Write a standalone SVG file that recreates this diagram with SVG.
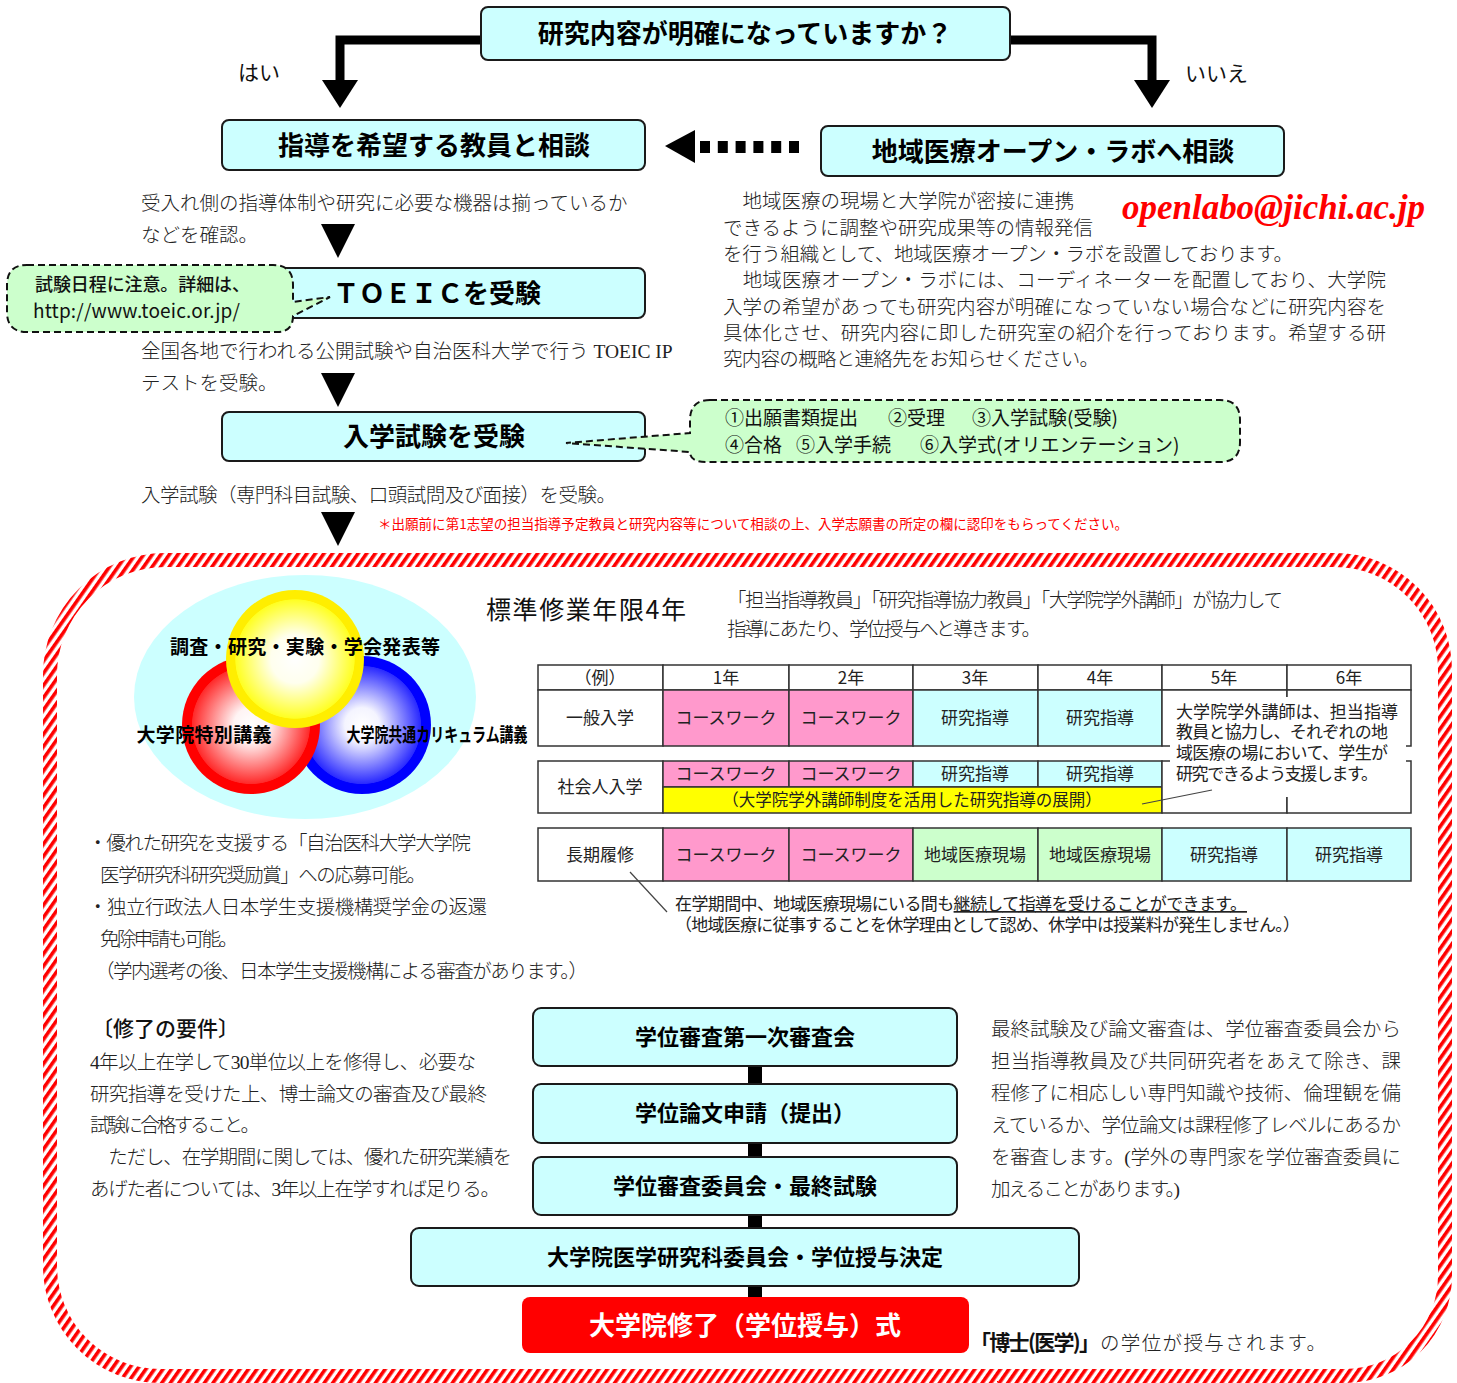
<svg xmlns="http://www.w3.org/2000/svg" width="1457" height="1383" viewBox="0 0 1457 1383">
<defs>
<style>
.box{fill:#ccffff;stroke:#1a1a1a;stroke-width:2}
.h{font-family:"Noto Sans CJK JP","Noto Sans",sans-serif;font-weight:700;fill:#000;text-anchor:middle}
.m{font-family:"Liberation Serif","Noto Sans CJK JP",serif;font-size:19.5px;font-weight:300;fill:#222}
.g{font-family:"Noto Sans CJK JP","Liberation Sans",sans-serif;fill:#111}
.tb{font-family:"Noto Sans CJK JP",sans-serif;font-size:17px;fill:#222;text-anchor:middle}
.cell{stroke:#333;stroke-width:1.5}
.bubble{fill:#ccffcc;stroke:#111;stroke-width:2;stroke-dasharray:7 4}
.arr{fill:#000}
.thick{fill:none;stroke:#000;stroke-width:9}
.lead{stroke:#444;stroke-width:1.2;fill:none}
</style>
<pattern id="stripe" patternUnits="userSpaceOnUse" width="7" height="7" patternTransform="rotate(35)">
<rect width="7" height="7" fill="#fff"/>
<rect width="3.6" height="7" fill="#ff0000"/>
</pattern>
<radialGradient id="gRed" cx="50%" cy="50%" r="50%">
<stop offset="0" stop-color="#ffffff"/>
<stop offset="0.25" stop-color="#fff4f4"/>
<stop offset="0.85" stop-color="#ff2a2a"/>
<stop offset="0.86" stop-color="#ff0000"/>
<stop offset="1" stop-color="#ff0000"/>
</radialGradient>
<radialGradient id="gBlue" cx="50%" cy="50%" r="50%">
<stop offset="0" stop-color="#ffffff"/>
<stop offset="0.25" stop-color="#f4f4ff"/>
<stop offset="0.85" stop-color="#2a2aff"/>
<stop offset="0.86" stop-color="#0000ff"/>
<stop offset="1" stop-color="#0000ff"/>
</radialGradient>
<radialGradient id="gYel" cx="50%" cy="50%" r="50%">
<stop offset="0" stop-color="#ffffff"/>
<stop offset="0.35" stop-color="#ffffee"/>
<stop offset="0.86" stop-color="#ffff22"/>
<stop offset="0.87" stop-color="#ffee00"/>
<stop offset="1" stop-color="#ffee00"/>
</radialGradient>
</defs>

<rect width="1457" height="1383" fill="#fff"/>

<!-- striped frame around the course section -->
<path d="M 165 560 H 1335 A 110 110 0 0 1 1445 670 V 1276 A 100 100 0 0 1 1345 1376 H 160 A 110 110 0 0 1 50 1266 V 675 A 115 115 0 0 1 165 560 Z" fill="none" stroke="url(#stripe)" stroke-width="14"/>

<!-- connectors -->
<g id="connectors">
<path class="thick" d="M 481 40 H 340 V 84"/>
<polygon class="arr" points="322,80 358,80 340,108"/>
<path class="thick" d="M 1010 40 H 1152 V 84"/>
<polygon class="arr" points="1134,80 1170,80 1152,108"/>
<polygon class="arr" points="665,146 695,130 695,163"/>
<line x1="700" y1="147" x2="800" y2="147" stroke="#000" stroke-width="12" stroke-dasharray="10 7.8"/>
<polygon class="arr" points="321,224 355,224 338,258"/>
<polygon class="arr" points="321,373 355,373 338,407"/>
<polygon class="arr" points="321,512 355,512 338,546"/>
<rect x="748" y="1065" width="14" height="20" fill="#000"/>
<rect x="748" y="1142" width="14" height="16" fill="#000"/>
<rect x="748" y="1214" width="14" height="15" fill="#000"/>
<rect x="748" y="1285" width="14" height="13" fill="#000"/>
</g>

<!-- yes / no labels -->
<text class="g" x="238" y="80" font-size="21">はい</text>
<text class="g" x="1185" y="81" font-size="21">いいえ</text>

<g id="n-question">
<rect class="box" x="481" y="7" width="529" height="53" rx="7"/>
<text class="h" x="745" y="43" font-size="26">研究内容が明確になっていますか？</text>
</g>

<g id="n-consult">
<rect class="box" x="222" y="120" width="423" height="50" rx="7"/>
<text class="h" x="434" y="155" font-size="26">指導を希望する教員と相談</text>
</g>

<g id="n-openlab">
<rect class="box" x="821" y="126" width="463" height="50" rx="7"/>
<text class="h" x="1053" y="161" font-size="26">地域医療オープン・ラボへ相談</text>
</g>

<text class="m" x="141" y="210">受入れ側の指導体制や研究に必要な機器は揃っているか</text>
<text class="m" x="141" y="242">などを確認。</text>

<text x="1122" y="219" font-family="Liberation Serif,serif" font-weight="700" font-style="italic" font-size="35" fill="#ff0000" textLength="303">openlabo@jichi.ac.jp</text>

<g class="m">
<text x="723" y="208">　地域医療の現場と大学院が密接に連携</text>
<text x="723" y="235">できるように調整や研究成果等の情報発信</text>
<text x="723" y="261" textLength="570">を行う組織として、地域医療オープン・ラボを設置しております。</text>
<text x="723" y="287" textLength="663">　地域医療オープン・ラボには、コーディネーターを配置しており、大学院</text>
<text x="723" y="314" textLength="663">入学の希望があっても研究内容が明確になっていない場合などに研究内容を</text>
<text x="723" y="340" textLength="663">具体化させ、研究内容に即した研究室の紹介を行っております。希望する研</text>
<text x="723" y="366" textLength="376">究内容の概略と連絡先をお知らせください。</text>
</g>

<g id="n-toeic">
<rect class="box" x="222" y="268" width="423" height="50" rx="7"/>
<text class="h" x="437" y="303" font-size="26">ＴＯＥＩＣを受験</text>
</g>

<g id="n-toeic-note">
<path class="bubble" d="M 27 265 H 273 Q 293 265 293 285 V 302 L 330 297 L 293 316 Q 293 332 277 332 H 27 Q 7 332 7 312 V 285 Q 7 265 27 265 Z"/>
<text class="g" x="35" y="291" font-size="18" font-weight="500" textLength="215">試験日程に注意。詳細は、</text>
<text class="g" x="33" y="318" font-size="19" textLength="207">http://www.toeic.or.jp/</text>
</g>

<text class="m" x="141" y="358">全国各地で行われる公開試験や自治医科大学で行う TOEIC IP</text>
<text class="m" x="141" y="390">テストを受験。</text>

<g id="n-exam">
<rect class="box" x="222" y="412" width="423" height="49" rx="7"/>
<text class="h" x="434" y="446" font-size="26">入学試験を受験</text>
</g>

<g id="n-exam-note">
<path class="bubble" d="M 710 400 H 1220 Q 1240 400 1240 420 V 442 Q 1240 462 1220 462 H 706 Q 690 462 690 452 L 566 443 L 690 433 V 420 Q 690 400 710 400 Z"/>
<text class="g" y="425" font-size="19"><tspan x="725">①出願書類提出</tspan><tspan x="888">②受理</tspan><tspan x="972">③入学試験(受験)</tspan></text>
<text class="g" y="452" font-size="19"><tspan x="725">④合格</tspan><tspan x="796">⑤入学手続</tspan><tspan x="920">⑥入学式(オリエンテーション)</tspan></text>
</g>

<text class="m" x="141" y="502" textLength="475">入学試験（専門科目試験、口頭試問及び面接）を受験。</text>
<text class="g" x="378" y="529" font-size="13.5" fill="#ff0000" style="fill:#ff0000" textLength="750">＊出願前に第1志望の担当指導予定教員と研究内容等について相談の上、入学志願書の所定の欄に認印をもらってください。</text>

<!-- curriculum circles -->
<g id="n-venn">
<ellipse cx="305" cy="697" rx="171" ry="122" fill="#ccffff"/>
<circle cx="362" cy="725" r="69" fill="url(#gBlue)"/>
<circle cx="251" cy="725" r="69" fill="url(#gRed)"/>
<circle cx="295" cy="659" r="69" fill="url(#gYel)"/>
<text class="h" x="305" y="654" font-size="19" textLength="270">調査・研究・実験・学会発表等</text>
<text class="h" x="204" y="742" font-size="19" textLength="135">大学院特別講義</text>
<text class="h" x="437" y="742" font-size="19" textLength="181" lengthAdjust="spacingAndGlyphs">大学院共通カリキュラム講義</text>
</g>

<text class="g" x="486" y="619" font-size="25" fill="#111" textLength="200">標準修業年限4年</text>
<text class="m" x="727" y="607" textLength="556">「担当指導教員」「研究指導協力教員」「大学院学外講師」が協力して</text>
<text class="m" x="727" y="636" textLength="314">指導にあたり、学位授与へと導きます。</text>

<!-- study plan table -->
<g id="n-table">
<g class="cell">
<rect x="538" y="665" width="125" height="25" fill="#fff"/>
<rect x="663" y="665" width="126" height="25" fill="#fff"/>
<rect x="789" y="665" width="124" height="25" fill="#fff"/>
<rect x="913" y="665" width="125" height="25" fill="#fff"/>
<rect x="1038" y="665" width="124" height="25" fill="#fff"/>
<rect x="1162" y="665" width="125" height="25" fill="#fff"/>
<rect x="1287" y="665" width="124" height="25" fill="#fff"/>

<rect x="538" y="690" width="125" height="56" fill="#fff"/>
<rect x="663" y="690" width="126" height="56" fill="#ff99cc"/>
<rect x="789" y="690" width="124" height="56" fill="#ff99cc"/>
<rect x="913" y="690" width="125" height="56" fill="#ccffff"/>
<rect x="1038" y="690" width="124" height="56" fill="#ccffff"/>
<rect x="1162" y="690" width="125" height="56" fill="#fff"/>
<rect x="1287" y="690" width="124" height="56" fill="#fff"/>

<rect x="538" y="761" width="125" height="52" fill="#fff"/>
<rect x="663" y="761" width="126" height="26" fill="#ff99cc"/>
<rect x="789" y="761" width="124" height="26" fill="#ff99cc"/>
<rect x="913" y="761" width="125" height="26" fill="#ccffff"/>
<rect x="1038" y="761" width="124" height="26" fill="#ccffff"/>
<rect x="663" y="787" width="499" height="26" fill="#ffff00"/>
<rect x="1162" y="761" width="125" height="52" fill="#fff"/>
<rect x="1287" y="761" width="124" height="52" fill="#fff"/>

<rect x="538" y="828" width="125" height="53" fill="#fff"/>
<rect x="663" y="828" width="126" height="53" fill="#ff99cc"/>
<rect x="789" y="828" width="124" height="53" fill="#ff99cc"/>
<rect x="913" y="828" width="125" height="53" fill="#ccffcc"/>
<rect x="1038" y="828" width="124" height="53" fill="#ccffcc"/>
<rect x="1162" y="828" width="125" height="53" fill="#ccffff"/>
<rect x="1287" y="828" width="124" height="53" fill="#ccffff"/>
</g>
<rect x="1170" y="697" width="236" height="100" fill="#fff"/>

<g class="tb" font-size="16">
<text x="600" y="684">（例）</text>
<text x="726" y="684">1年</text>
<text x="851" y="684">2年</text>
<text x="975" y="684">3年</text>
<text x="1100" y="684">4年</text>
<text x="1224" y="684">5年</text>
<text x="1349" y="684">6年</text>
</g>
<g class="tb">
<text x="600" y="724">一般入学</text>
<text x="726" y="724">コースワーク</text>
<text x="851" y="724">コースワーク</text>
<text x="975" y="724">研究指導</text>
<text x="1100" y="724">研究指導</text>

<text x="600" y="793">社会人入学</text>
<text x="726" y="780">コースワーク</text>
<text x="851" y="780">コースワーク</text>
<text x="975" y="780">研究指導</text>
<text x="1100" y="780">研究指導</text>
<text x="912" y="806" font-size="16.5">（大学院学外講師制度を活用した研究指導の展開）</text>

<text x="600" y="861">長期履修</text>
<text x="726" y="861">コースワーク</text>
<text x="851" y="861">コースワーク</text>
<text x="975" y="861">地域医療現場</text>
<text x="1100" y="861">地域医療現場</text>
<text x="1224" y="861">研究指導</text>
<text x="1349" y="861">研究指導</text>
</g>
<!-- note on external lecturers, four lines in one block -->
<text class="tb" style="text-anchor:start" font-size="16.5"><tspan x="1176" y="718" textLength="222">大学院学外講師は、担当指導</tspan><tspan x="1176" y="738" textLength="212">教員と協力し、それぞれの地</tspan><tspan x="1176" y="759" textLength="212">域医療の場において、学生が</tspan><tspan x="1176" y="780" textLength="202">研究できるよう支援します。</tspan></text>
<line class="lead" x1="1142" y1="804" x2="1212" y2="790"/>
<line class="lead" x1="630" y1="872" x2="667" y2="912"/>
<text class="tb" style="text-anchor:start"><tspan x="675" y="910" textLength="572">在学期間中、地域医療現場にいる間も<tspan text-decoration="underline">継続して指導を受けることができます。</tspan></tspan><tspan x="675" y="931" textLength="625">（地域医療に従事することを休学理由として認め、休学中は授業料が発生しません。）</tspan></text>
</g>

<!-- support notes -->
<g class="m">
<text x="88" y="850" textLength="383">・優れた研究を支援する「自治医科大学大学院</text>
<text x="100" y="882" textLength="326">医学研究科研究奨励賞」への応募可能。</text>
<text x="88" y="914" textLength="399">・独立行政法人日本学生支援機構奨学金の返還</text>
<text x="100" y="946" textLength="138">免除申請も可能。</text>
<text x="95" y="978" textLength="493">（学内選考の後、日本学生支援機構による審査があります。）</text>
</g>

<text class="g" x="92" y="1036" font-size="21" font-weight="500">〔修了の要件〕</text>
<g class="m">
<text x="90" y="1069" textLength="386">4年以上在学して30単位以上を修得し、必要な</text>
<text x="90" y="1101" textLength="397">研究指導を受けた上、博士論文の審査及び最終</text>
<text x="90" y="1132" textLength="170">試験に合格すること。</text>
<text x="90" y="1164" textLength="422">　ただし、在学期間に関しては、優れた研究業績を</text>
<text x="90" y="1196" textLength="410">あげた者については、3年以上在学すれば足りる。</text>
</g>

<g class="m">
<text x="991" y="1036" textLength="410">最終試験及び論文審査は、学位審査委員会から</text>
<text x="991" y="1068" textLength="410">担当指導教員及び共同研究者をあえて除き、課</text>
<text x="991" y="1100" textLength="410">程修了に相応しい専門知識や技術、倫理観を備</text>
<text x="991" y="1132" textLength="410">えているか、学位論文は課程修了レベルにあるか</text>
<text x="991" y="1164" textLength="410">を審査します。(学外の専門家を学位審査委員に</text>
<text x="991" y="1196" textLength="189">加えることがあります。)</text>
</g>

<g id="n-review1">
<rect class="box" x="533" y="1008" width="424" height="58" rx="8"/>
<text class="h" x="745" y="1045" font-size="22">学位審査第一次審査会</text>
</g>
<g id="n-submit">
<rect class="box" x="533" y="1084" width="424" height="59" rx="8"/>
<text class="h" x="745" y="1121" font-size="22">学位論文申請（提出）</text>
</g>
<g id="n-final">
<rect class="box" x="533" y="1157" width="424" height="58" rx="8"/>
<text class="h" x="745" y="1194" font-size="22">学位審査委員会・最終試験</text>
</g>
<g id="n-decision">
<rect class="box" x="411" y="1228" width="668" height="58" rx="8"/>
<text class="h" x="745" y="1265" font-size="22">大学院医学研究科委員会・学位授与決定</text>
</g>
<g id="n-ceremony">
<rect x="522" y="1297" width="447" height="56" rx="8" fill="#ff0000"/>
<text class="h" x="745" y="1335" font-size="26" fill="#fff" style="fill:#fff">大学院修了（学位授与）式</text>
</g>

<text x="970" y="1350" font-size="21"><tspan class="g" font-weight="700" style="fill:#111" textLength="130">「博士(医学)」</tspan><tspan class="m" x="1100" font-size="21" textLength="226">の学位が授与されます。</tspan></text>
</svg>
